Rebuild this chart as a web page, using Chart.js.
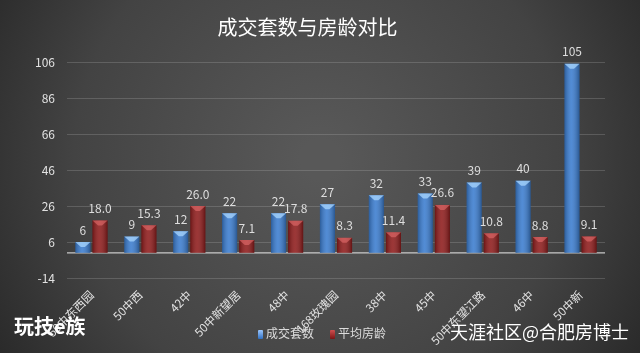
<!DOCTYPE html>
<html>
<head>
<meta charset="utf-8">
<script src="https://cdn.jsdelivr.net/npm/chart.js@4.4.1/dist/chart.umd.min.js"></script>
<style>
  html, body { margin: 0; padding: 0; background: #2b2b2b; }
  #wrap { position: relative; width: 640px; height: 353px; overflow: hidden; }
  #legend { position: absolute; top: 324px; left: 258px; font: 12px "Noto Sans CJK SC", sans-serif; color: #dcdcdc; white-space: nowrap; }
  #legend span.item { margin-right: 16px; }
  #legend i { display: inline-block; width: 5px; height: 9px; margin-right: 3px; border-radius: 1px; vertical-align: -1px; }
</style>
</head>
<body>
<div id="wrap">
  <canvas id="c" width="640" height="353"></canvas>
  <div id="legend"></div>
</div>
<script>
// ---- data ----
const categories = ['50中东西园', '50中西', '42中', '50中新望居', '48中', '168玫瑰园', '38中', '45中', '50中东望江路', '46中', '50中新'];
const dealCounts = [6, 9, 12, 22, 22, 27, 32, 33, 39, 40, 105];
const avgAges = [18.0, 15.3, 26.0, 7.1, 17.8, 8.3, 11.4, 26.6, 10.8, 8.8, 9.1];
const yTicks = [-14, 6, 26, 46, 66, 86, 106];
const seriesNames = ['成交套数', '平均房龄'];

const BLUE = '#3a7ccf', RED = '#8e1b1b';
const FONT = '"Noto Sans CJK SC", "Noto Sans", sans-serif';

// legend (html)
document.getElementById('legend').innerHTML =
  '<span class="item"><i style="background:linear-gradient(#9cc8ff,#2f6fc2)"></i>' + seriesNames[0] + '</span>' +
  '<span class="item"><i style="background:linear-gradient(#d05050,#7a1414)"></i>' + seriesNames[1] + '</span>';

// background + watermarks
const bgPlugin = {
  id: 'bg',
  beforeDraw(chart) {
    const ctx = chart.ctx, w = chart.width, h = chart.height;
    ctx.save();
    const g = ctx.createRadialGradient(w * 0.5, h * 0.45, 20, w * 0.5, h * 0.45, w * 0.62);
    g.addColorStop(0, '#585858');
    g.addColorStop(0.6, '#434343');
    g.addColorStop(1, '#262626');
    ctx.fillStyle = g;
    ctx.fillRect(0, 0, w, h);
    ctx.restore();
  },
  afterDraw(chart) {
    const ctx = chart.ctx;
    ctx.save();
    ctx.fillStyle = '#ffffff';
    ctx.textBaseline = 'middle';
    ctx.font = 'bold 20px ' + FONT;
    ctx.fillText('玩技e族', 14, 326);
    ctx.font = '18px ' + FONT;
    ctx.fillText('天涯社区@合肥房博士', 450, 332);
    ctx.restore();
  }
};

// zero line, bar shading and value labels
const barPlugin = {
  id: 'bars',
  beforeDatasetsDraw(chart) {
    const ctx = chart.ctx, y = chart.scales.y, a = chart.chartArea;
    const py = y.getPixelForValue(0);
    ctx.save();
    ctx.strokeStyle = 'rgba(225,225,225,0.85)';
    ctx.lineWidth = 1.2;
    ctx.beginPath();
    ctx.moveTo(a.left, py);
    ctx.lineTo(a.right, py);
    ctx.stroke();
    ctx.restore();
  },
  afterDatasetsDraw(chart) {
    const ctx = chart.ctx;
    ctx.save();
    chart.data.datasets.forEach((ds, di) => {
      const meta = chart.getDatasetMeta(di);
      meta.data.forEach((bar, i) => {
        const l = bar.x - bar.width / 2, r = bar.x + bar.width / 2;
        const top = bar.y, bot = bar.base;
        // cylinder-like shading
        const g = ctx.createLinearGradient(l, 0, r, 0);
        g.addColorStop(0, 'rgba(0,0,0,0.25)');
        g.addColorStop(0.45, 'rgba(255,255,255,0.12)');
        g.addColorStop(1, 'rgba(0,0,0,0.3)');
        ctx.fillStyle = g;
        ctx.fillRect(l, top, r - l, bot - top);
        // top bevel
        ctx.fillStyle = di === 0 ? 'rgba(170,215,255,0.75)' : 'rgba(230,110,110,0.6)';
        ctx.beginPath();
        ctx.moveTo(l, top);
        ctx.lineTo(r, top);
        ctx.lineTo(bar.x + 2, top + 5);
        ctx.lineTo(bar.x - 2, top + 5);
        ctx.closePath();
        ctx.fill();
        // value label
        const v = ds.data[i];
        ctx.fillStyle = '#dedede';
        ctx.font = '12px ' + FONT;
        ctx.textAlign = 'center';
        ctx.textBaseline = 'bottom';
        ctx.fillText(di === 0 ? String(v) : v.toFixed(1), bar.x, top - 6);
      });
    });
    ctx.restore();
  }
};

new Chart(document.getElementById('c'), {
  type: 'bar',
  data: {
    labels: categories,
    datasets: [
      { label: seriesNames[0], data: dealCounts, backgroundColor: BLUE },
      { label: seriesNames[1], data: avgAges, backgroundColor: RED }
    ]
  },
  options: {
    responsive: false,
    animation: false,
    layout: { padding: { left: 10, right: 35, top: 0, bottom: 0 } },
    datasets: { bar: { categoryPercentage: 0.7, barPercentage: 0.88 } },
    plugins: {
      legend: { display: false },
      tooltip: { enabled: false },
      title: {
        display: true,
        text: '成交套数与房龄对比',
        color: '#ffffff',
        font: { family: FONT, size: 20, weight: 'normal' },
        padding: { top: 15, bottom: 23 }
      }
    },
    scales: {
      x: {
        grid: { display: false },
        border: { display: false },
        ticks: { color: '#e2e2e2', font: { family: FONT, size: 11.5 }, minRotation: 45, maxRotation: 45, padding: 2 },
        afterFit(s) { s.height = 75; }
      },
      y: {
        min: -14,
        max: 106,
        afterBuildTicks(s) { s.ticks = yTicks.map(v => ({ value: v })); },
        grid: { color: 'rgba(200,200,200,0.22)', drawTicks: false },
        border: { display: false },
        ticks: { color: '#e2e2e2', font: { family: FONT, size: 12 }, padding: 12 },
        afterFit(s) { s.width = 57; }
      }
    }
  },
  plugins: [bgPlugin, barPlugin]
});
</script>
</body>
</html>
